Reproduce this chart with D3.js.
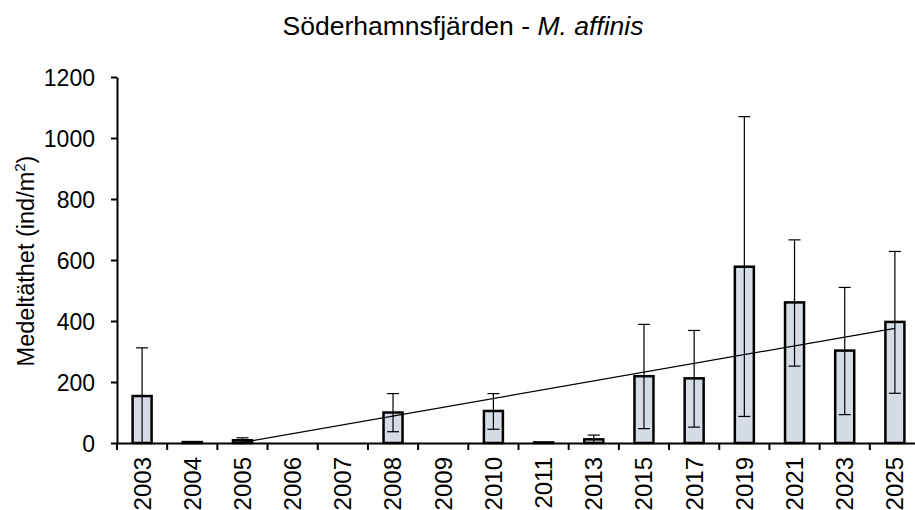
<!DOCTYPE html>
<html lang="sv">
<head>
    <meta charset="UTF-8">
    <title>Söderhamnsfjärden - M. affinis</title>
    <script src="https://d3js.org/d3.v7.min.js"></script>
    <style>
        body {
            margin: 0;
            padding: 0;
            background-color: #fff;
            font-family: "Liberation Sans", Arial, sans-serif;
        }
        svg text {
            fill: #000;
        }
    </style>
</head>
<body>
    <svg id="chart" width="915" height="510"></svg>

    <script>
        // Data
        var years = ["2003", "2004", "2005", "2006", "2007", "2008", "2009", "2010",
                     "2011", "2013", "2015", "2017", "2019", "2021", "2023", "2025"];
        var means = [154, 3, 9, 0, 0, 100, 0, 105, 2, 12, 219, 212, 578, 461, 303, 397];
        var errUpper = [312, 3, 17, 0, 0, 162, 0, 162, 2, 26, 389, 369, 1070, 666, 510, 628];
        var errLower = [0, 3, 0, 0, 0, 37, 0, 45, 2, 0, 47, 52, 87, 252, 93, 163];
        var trendYears = ["2005", "2025"];
        var trendValues = [2, 376];
        var yTicks = [0, 200, 400, 600, 800, 1000, 1200];

        var svg = d3.select("#chart");

        // Scales
        var x = d3.scaleBand()
            .domain(years)
            .range([117, 920])
            .paddingInner(0)
            .paddingOuter(0);

        var y = d3.scaleLinear()
            .domain([0, 1200])
            .range([443, 77]);

        var barWidth = 19;

        // Title
        var title = svg.append("text")
            .attr("x", 463)
            .attr("y", 35)
            .attr("text-anchor", "middle")
            .style("font-size", "26.5px");
        title.append("tspan").text("Söderhamnsfjärden - ");
        title.append("tspan").style("font-style", "italic").text("M. affinis");

        // Y axis label
        var ylab = svg.append("text")
            .attr("transform", "translate(34,261) rotate(-90)")
            .attr("text-anchor", "middle")
            .style("font-size", "23.5px");
        ylab.append("tspan").text("Medeltäthet (ind/m");
        ylab.append("tspan").attr("dy", -9).style("font-size", "15px").text("2");
        ylab.append("tspan").attr("dy", 9).text(")");

        // Bars
        var data = years.map(function(yr, i) {
            return { year: yr, mean: means[i], hi: errUpper[i], lo: errLower[i] };
        });

        svg.append("g")
            .selectAll("rect")
            .data(data.filter(function(d) { return d.mean > 0; }))
            .enter()
            .append("rect")
                .attr("x", function(d) { return x(d.year) + x.bandwidth() / 2 - barWidth / 2; })
                .attr("y", function(d) { return y(d.mean); })
                .attr("width", barWidth)
                .attr("height", function(d) { return y(0) - y(d.mean); })
                .attr("fill", "#d6dce5")
                .attr("stroke", "#000")
                .attr("stroke-width", 2.5);

        // Error bars
        var err = svg.append("g")
            .selectAll("g")
            .data(data.filter(function(d) { return d.hi > d.mean; }))
            .enter()
            .append("g")
            .attr("stroke", "#000")
            .attr("stroke-width", 1.2);

        err.append("line")
            .attr("x1", function(d) { return x(d.year) + x.bandwidth() / 2; })
            .attr("x2", function(d) { return x(d.year) + x.bandwidth() / 2; })
            .attr("y1", function(d) { return y(d.lo); })
            .attr("y2", function(d) { return y(d.hi); });

        err.append("line")
            .attr("x1", function(d) { return x(d.year) + x.bandwidth() / 2 - 6; })
            .attr("x2", function(d) { return x(d.year) + x.bandwidth() / 2 + 6; })
            .attr("y1", function(d) { return y(d.hi); })
            .attr("y2", function(d) { return y(d.hi); });

        err.filter(function(d) { return d.lo > 0; })
            .append("line")
            .attr("x1", function(d) { return x(d.year) + x.bandwidth() / 2 - 6; })
            .attr("x2", function(d) { return x(d.year) + x.bandwidth() / 2 + 6; })
            .attr("y1", function(d) { return y(d.lo); })
            .attr("y2", function(d) { return y(d.lo); });

        // Linear trend line
        var trend = trendYears.map(function(yr, i) { return [yr, trendValues[i]]; });
        svg.append("path")
            .datum(trend)
            .attr("fill", "none")
            .attr("stroke", "#000")
            .attr("stroke-width", 1.2)
            .attr("d", d3.line()
                .x(function(d) { return x(d[0]) + x.bandwidth() / 2; })
                .y(function(d) { return y(d[1]); }));

        // Y axis
        var yAxis = svg.append("g")
            .attr("transform", "translate(117,0)")
            .call(d3.axisLeft(y).tickValues(yTicks).tickFormat(d3.format("d"))
                .tickSize(6).tickSizeOuter(0).tickPadding(16));
        yAxis.selectAll("text").style("font-size", "23px").attr("dy", "0.35em");
        yAxis.selectAll("line, path").attr("stroke", "#000").attr("stroke-width", 2);

        // X axis
        var xAxis = svg.append("g")
            .attr("transform", "translate(0,443)")
            .call(d3.axisBottom(x).tickSize(0).tickSizeOuter(0));
        xAxis.select(".domain").attr("stroke", "#000").attr("stroke-width", 2);
        xAxis.selectAll(".tick text")
            .style("font-size", "24px")
            .attr("text-anchor", "end")
            .attr("transform", "rotate(-90)")
            .attr("x", -14)
            .attr("y", 0)
            .attr("dy", "0.35em");

        // Category boundary ticks
        xAxis.append("g")
            .selectAll("line")
            .data(years)
            .enter()
            .append("line")
                .attr("x1", function(d) { return x(d); })
                .attr("x2", function(d) { return x(d); })
                .attr("y1", 0)
                .attr("y2", 7)
                .attr("stroke", "#000")
                .attr("stroke-width", 2);
    </script>
</body>
</html>
